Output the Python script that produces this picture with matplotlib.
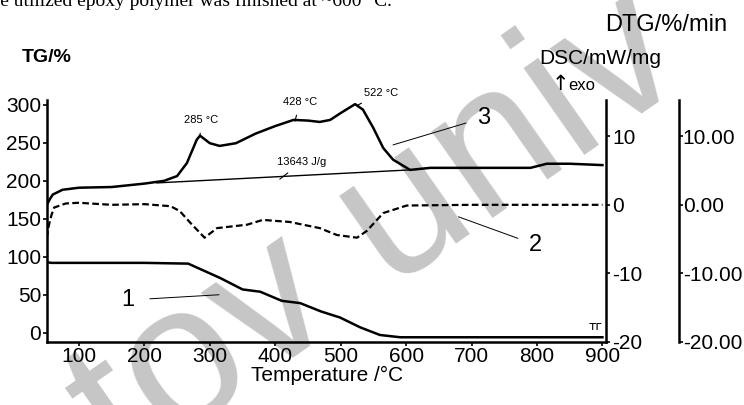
import matplotlib.pyplot as plt

# TG curve (left axis, %)
tg_temp = [50, 58, 100, 200, 267, 285, 316, 350, 377, 410, 438, 470, 499, 530, 560, 591, 650, 900]
tg_val = [93, 92, 92, 92, 91, 84, 72, 57, 54, 42, 39, 28, 20, 7, -3, -6, -6, -6]

# DSC curve (right axis, mW/mg)
dsc_temp = [51, 56, 60, 75, 100, 150, 200, 230, 250, 265, 280, 285, 300, 315, 340, 370, 400,
            428, 450, 468, 484, 500, 522, 534, 550, 565, 580, 606, 637, 700, 790, 815, 850, 900]
dsc_val = [0.0, 0.9, 1.5, 2.2, 2.5, 2.6, 3.1, 3.5, 4.2, 6.1, 9.5, 10.1, 9.0, 8.6, 9.0, 10.4, 11.5,
           12.4, 12.3, 12.1, 12.4, 13.4, 14.7, 13.9, 11.2, 8.3, 6.6, 5.1, 5.4, 5.4, 5.4, 6.0, 6.0, 5.8]

# DSC baseline used for the integration
base_temp = [219, 606]
base_val = [3.2, 5.1]

# DTG curve (dashed, %/min)
dtg_temp = [51, 54, 58, 62, 80, 100, 150, 200, 240, 254, 270, 292, 311, 357, 381, 422, 468,
            494, 525, 540, 565, 601, 700, 800, 900]
dtg_val = [-4.8, -3.0, -1.5, -0.4, 0.2, 0.3, 0.0, 0.1, -0.2, -0.9, -2.6, -4.8, -3.4, -2.9, -2.2,
           -2.5, -3.4, -4.4, -4.8, -3.8, -1.2, -0.1, 0.0, 0.0, 0.0]

x_ticks = [100, 200, 300, 400, 500, 600, 700, 800, 900]
tg_ticks = [0, 50, 100, 150, 200, 250, 300]
dsc_ticks = [-20, -10, 0, 10]
dtg_ticks = [-20, -10, 0, 10]

plt.rcParams['font.family'] = ['Liberation Sans', 'DejaVu Sans']
plt.rcParams['axes.unicode_minus'] = False

fig = plt.figure(figsize=(7.44, 4.05), dpi=100)
ax = fig.add_axes([0.063, 0.156, 0.752, 0.597])
ax.set_facecolor('none')
ax2 = ax.twinx()
ax3 = ax.twinx()

# watermark and cut-off page text
fig.text(0.166, -0.176, 'tov univ', rotation=35, fontsize=145, color='#c6c6c6',
         zorder=-5, rotation_mode='anchor')
fig.text(-0.02, 1 - 6 / 405, 'the utilized epoxy polymer was finished at ~600 °C.',
         fontsize=14, family=['Liberation Serif', 'DejaVu Serif'], va='baseline')

ax.plot(tg_temp, tg_val, color='black', lw=1.8)
ax2.plot(dsc_temp, dsc_val, color='black', lw=1.8)
ax2.plot(base_temp, base_val, color='black', lw=1.0)
ax3.plot(dtg_temp, dtg_val, color='black', lw=1.6, ls=(0, (3, 1.5)))

ax.set_xlim(51, 906)
ax.set_ylim(-12, 306.5)
ax2.set_ylim(-20, 15.3)
ax3.set_ylim(-20, 15.3)

ax.set_xticks(x_ticks)
ax.set_yticks(tg_ticks)
ax2.set_yticks(dsc_ticks)
ax3.set_yticks(dtg_ticks)
ax3.set_yticklabels(['%.2f' % v for v in dtg_ticks])

for a in (ax, ax2, ax3):
    for s in a.spines.values():
        s.set_visible(False)
    a.tick_params(labelsize=15, length=3, width=1.2, pad=1, colors='black')
ax3.tick_params(pad=0)

ax.spines['left'].set_visible(True)
ax.spines['bottom'].set_visible(True)
ax2.spines['right'].set_visible(True)
ax3.spines['right'].set_visible(True)
ax3.spines['right'].set_position(('axes', 1.129))
ax3.spines['right'].set_linestyle((0, (3, 1)))
for s in (ax.spines['left'], ax.spines['bottom'], ax2.spines['right'], ax3.spines['right']):
    s.set_linewidth(1.8)

ax.set_xlabel('Temperature /°C', fontsize=15, labelpad=0)

# axis titles
fig.text(47 / 744, 1 - 57 / 405, 'TG/%', fontsize=14, fontweight='bold', ha='center', va='center')
fig.text(666 / 744, 1 - 25 / 405, 'DTG/%/min', fontsize=17, ha='center', va='center')
fig.text(600 / 744, 1 - 58 / 405, 'DSC/mW/mg', fontsize=15, ha='center', va='center')
fig.text(560 / 744, 1 - 84 / 405, '↑', fontsize=15, ha='center', va='center',
         family=['DejaVu Sans'])
fig.text(568 / 744, 1 - 86 / 405, 'exo', fontsize=12, ha='left', va='center')

# peak annotations
small = dict(fontsize=8, ha='center', va='center')
ax2.annotate('285 °C', xy=(285, 10.1), xytext=(287, 12.4), annotation_clip=False,
             arrowprops=dict(arrowstyle='-', lw=0.8, shrinkA=4, shrinkB=0), **small)
ax2.annotate('428 °C', xy=(430, 12.2), xytext=(438, 15.0), annotation_clip=False,
             arrowprops=dict(arrowstyle='-', lw=0.8, shrinkA=4, shrinkB=0), **small)
ax2.annotate('522 °C', xy=(525, 14.5), xytext=(562, 16.35), annotation_clip=False,
             arrowprops=dict(arrowstyle='-', lw=0.8, shrinkA=4, shrinkB=0), **small)
ax2.annotate('13643 J/g', xy=(407, 3.75), xytext=(441, 6.3), annotation_clip=False,
             arrowprops=dict(arrowstyle='-', lw=0.8, shrinkA=4, shrinkB=0), **small)

# curve numbers
ax2.annotate('3', xy=(580, 8.75), xytext=(718, 12.7), fontsize=17, ha='center', va='center',
             arrowprops=dict(arrowstyle='-', lw=0.7, shrinkA=6, shrinkB=0))
ax3.annotate('2', xy=(680, -1.75), xytext=(797, -5.8), fontsize=17, ha='center', va='center',
             arrowprops=dict(arrowstyle='-', lw=0.7, shrinkA=6, shrinkB=0))
ax.annotate('1', xy=(314, 50), xytext=(175, 43), fontsize=17, ha='center', va='center',
            arrowprops=dict(arrowstyle='-', lw=0.7, shrinkA=9, shrinkB=0))
ax.text(889, 8, 'тг', fontsize=9, ha='center', va='center', family=['DejaVu Sans'])

fig.savefig('out.png', dpi=100)
